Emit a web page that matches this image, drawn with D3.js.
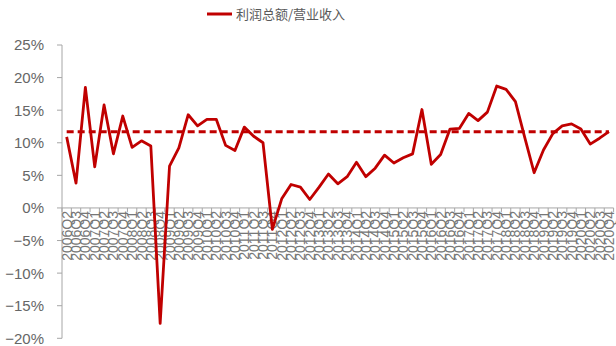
<!DOCTYPE html>
<html>
<head>
<meta charset="utf-8">
<script src="https://cdn.jsdelivr.net/npm/d3@7"></script>
<style>
  html, body { margin: 0; padding: 0; background: #fff; }
  svg { display: block; }
  text { font-family: "Liberation Sans", Arial, sans-serif; fill: #595959; }
</style>
</head>
<body>
<div id="chart"></div>
<script>
// Quarters 2006Q2 .. 2020Q4
const years = d3.range(2006, 2021);
const quarters = [];
years.forEach(y => [1, 2, 3, 4].forEach(q => {
  if (y === 2006 && q < 2) return;
  quarters.push(y + 'Q' + q);
}));

// profit / revenue, %
const ratio = [
  10.9, 3.8, 18.5, 6.3, 15.8, 8.3, 14.1, 9.3, 10.3, 9.5,
  -17.7, 6.4, 9.2, 14.3, 12.6, 13.6, 13.6, 9.6, 8.8, 12.4,
  11.0, 10.0, -3.3, 1.4, 3.6, 3.2, 1.3, 3.2, 5.2, 3.7,
  4.8, 7.0, 4.8, 6.1, 8.1, 6.9, 7.7, 8.3, 15.1, 6.7,
  8.2, 12.1, 12.2, 14.5, 13.4, 14.7, 18.7, 18.2, 16.3, 10.8,
  5.4, 8.9, 11.4, 12.6, 12.9, 12.1, 9.8, 10.7, 11.7
];
const avgLine = 11.7;
const yTicks = [-20, -15, -10, -5, 0, 5, 10, 15, 20, 25];
const legendLabel = '利润总额/营业收入';

const W = 616, H = 346;
const m = { left: 62, right: 613.6, top: 45, bottom: 338.3 };
const red = '#C00000', axisGrey = '#A6A6A6';

const svg = d3.select('#chart').append('svg')
  .attr('width', W)
  .attr('height', H);

const x = d3.scaleBand().domain(quarters).range([m.left, m.right]).padding(0);
const y = d3.scaleLinear().domain([-20, 25]).range([m.bottom, m.top]);
const cx = d => x(d) + x.bandwidth() / 2;

// y axis
svg.append('line')
  .attr('x1', m.left).attr('x2', m.left)
  .attr('y1', y(25)).attr('y2', y(-20))
  .attr('stroke', axisGrey).attr('stroke-width', 1);
svg.selectAll('.ytick').data(yTicks).enter().append('line')
  .attr('x1', m.left - 5).attr('x2', m.left)
  .attr('y1', d => y(d)).attr('y2', d => y(d))
  .attr('stroke', axisGrey);
svg.selectAll('.ylab').data(yTicks).enter().append('text')
  .attr('x', 44)
  .attr('y', d => y(d))
  .attr('dy', '0.36em')
  .attr('text-anchor', 'end')
  .style('font-size', '15px')
  .style('fill', '#666')
  .text(d => (d < 0 ? '\u2212' + Math.abs(d) : d) + '%');

// x axis at zero
svg.append('line')
  .attr('x1', m.left).attr('x2', m.right)
  .attr('y1', y(0)).attr('y2', y(0))
  .attr('stroke', axisGrey);
const edges = quarters.map(q => x(q)).concat([m.right]);
svg.selectAll('.xtick').data(edges).enter().append('line')
  .attr('x1', d => d).attr('x2', d => d)
  .attr('y1', y(0)).attr('y2', y(0) + 4)
  .attr('stroke', axisGrey);
svg.selectAll('.xlab').data(quarters).enter().append('text')
  .attr('transform', d => `translate(${cx(d)},${y(0) + 3}) rotate(-90)`)
  .attr('text-anchor', 'end')
  .attr('dy', '0.36em')
  .style('font-size', '14px')
  .style('fill', '#777')
  .text(d => d);

// average dashed line
svg.append('line')
  .attr('x1', cx(quarters[0])).attr('x2', cx(quarters[quarters.length - 1]))
  .attr('y1', y(avgLine)).attr('y2', y(avgLine))
  .attr('stroke', red).attr('stroke-width', 3)
  .attr('stroke-dasharray', '7,4');

// main series
const line = d3.line()
  .x((d, i) => cx(quarters[i]))
  .y(d => y(d));
svg.append('path')
  .datum(ratio)
  .attr('d', line)
  .attr('fill', 'none')
  .attr('stroke', red)
  .attr('stroke-width', 2.8)
  .attr('stroke-linejoin', 'round');

// legend
svg.append('line')
  .attr('x1', 207).attr('x2', 232)
  .attr('y1', 14).attr('y2', 14)
  .attr('stroke', red).attr('stroke-width', 3);
svg.append('text')
  .attr('x', 236).attr('y', 14)
  .attr('dy', '0.36em')
  .style('font-family', '"Noto Sans CJK SC", sans-serif')
  .style('font-size', '13px')
  .text(legendLabel);
</script>
</body>
</html>
